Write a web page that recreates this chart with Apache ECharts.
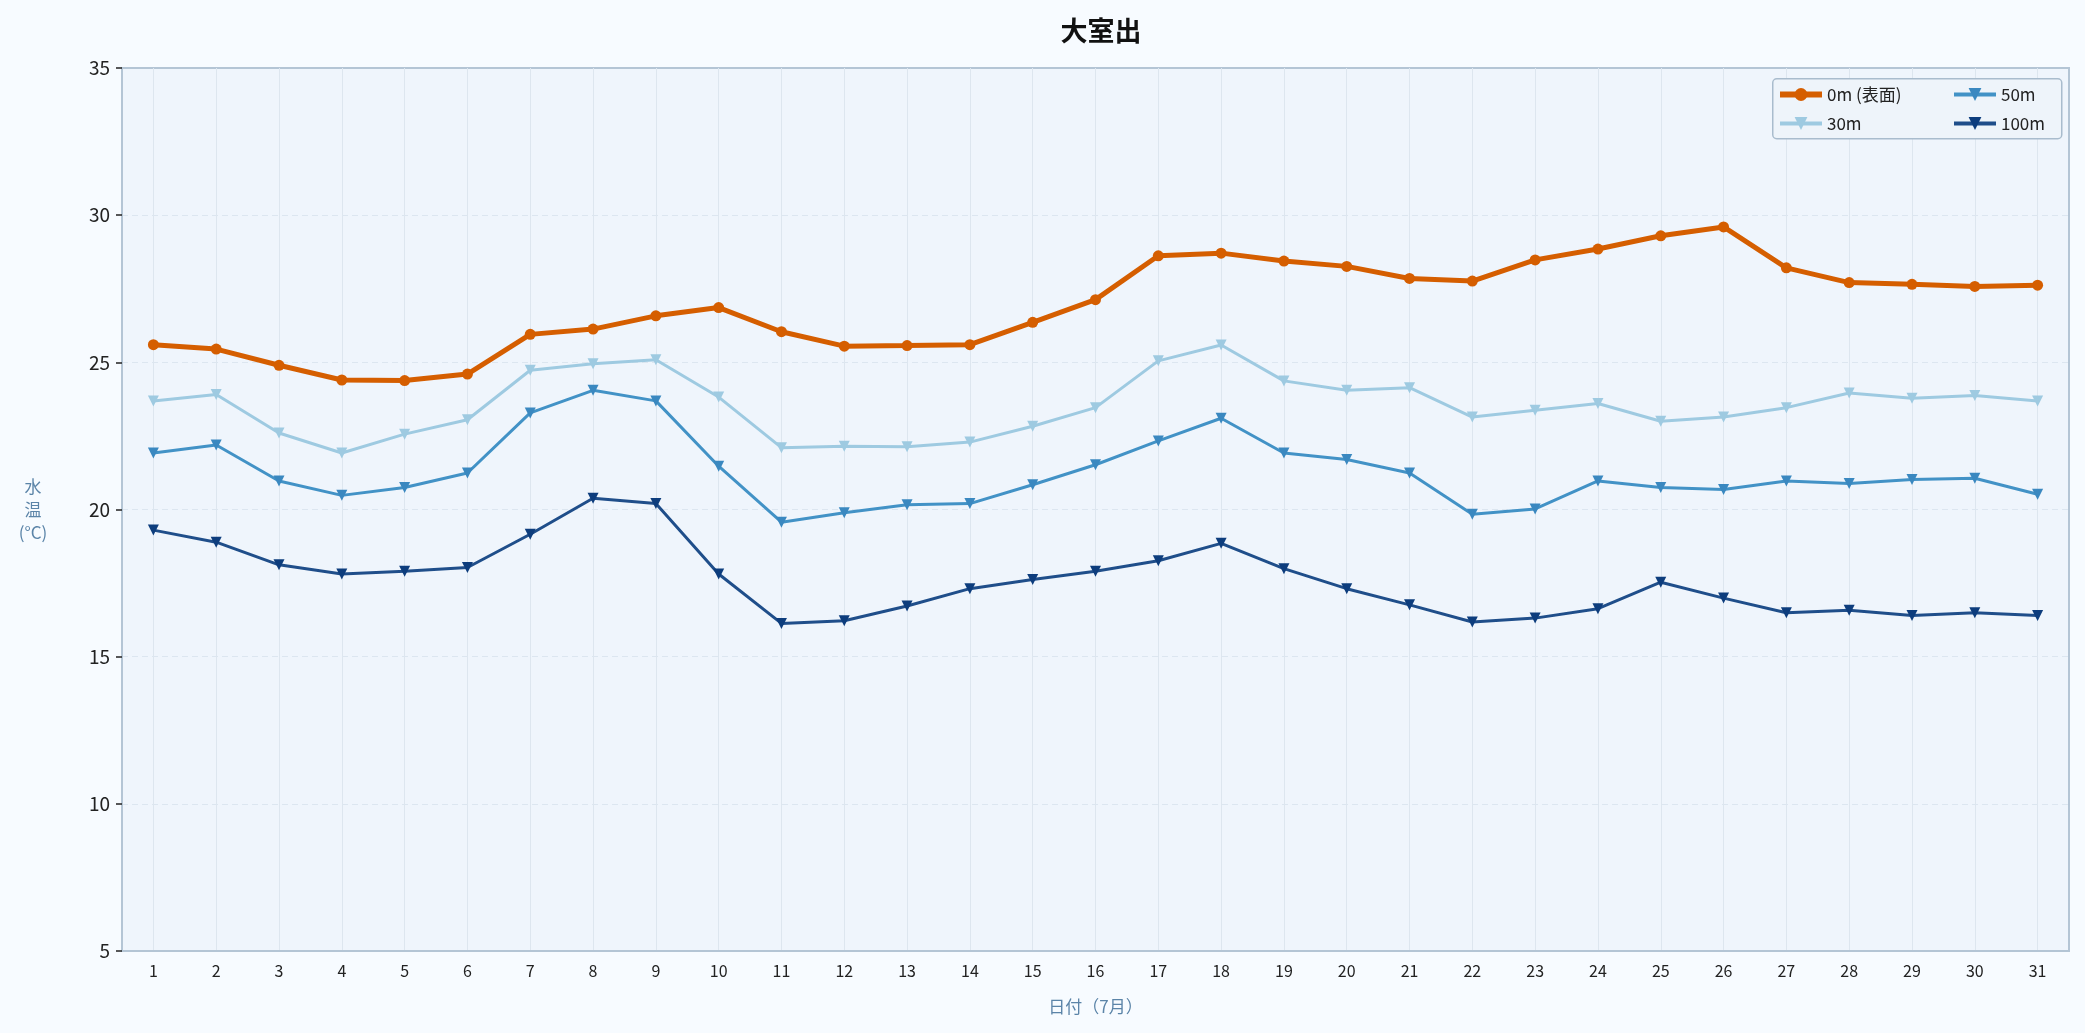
<!DOCTYPE html>
<html>
<head>
<meta charset="utf-8">
<title>大室出</title>
<script src="https://cdn.jsdelivr.net/npm/echarts@6/dist/echarts.min.js"></script>
<style>
  html, body { margin: 0; padding: 0; background: #f7fbff; }
  #chart { width: 2085px; height: 1033px; }
</style>
</head>
<body>
<div id="chart"></div>
<script>
// 日付（7月）
const days = ['1','2','3','4','5','6','7','8','9','10','11','12','13','14','15','16',
  '17','18','19','20','21','22','23','24','25','26','27','28','29','30','31'];

// 水温 (°C) by depth
const temp0m = [25.6, 25.45, 24.9, 24.4, 24.38, 24.6, 25.95, 26.13, 26.58, 26.86, 26.04,
  25.55, 25.57, 25.6, 26.36, 27.13, 28.62, 28.71, 28.44, 28.26, 27.85, 27.76, 28.48,
  28.85, 29.3, 29.6, 28.21, 27.71, 27.65, 27.58, 27.62];
const temp30m = [23.69, 23.91, 22.6, 21.92, 22.56, 23.05, 24.73, 24.95, 25.09, 23.82,
  22.1, 22.15, 22.13, 22.29, 22.83, 23.46, 25.05, 25.59, 24.37, 24.05, 24.14, 23.14,
  23.37, 23.6, 23.0, 23.14, 23.46, 23.96, 23.78, 23.87, 23.69];
const temp50m = [21.92, 22.19, 20.97, 20.48, 20.75, 21.24, 23.28, 24.05, 23.69, 21.47,
  19.57, 19.89, 20.16, 20.2, 20.84, 21.52, 22.33, 23.1, 21.92, 21.7, 21.24, 19.84,
  20.02, 20.97, 20.75, 20.68, 20.97, 20.88, 21.02, 21.06, 20.52];
const temp100m = [19.3, 18.89, 18.12, 17.81, 17.9, 18.03, 19.16, 20.38, 20.2, 17.81,
  16.13, 16.22, 16.72, 17.31, 17.62, 17.9, 18.26, 18.85, 17.99, 17.31, 16.76, 16.18,
  16.31, 16.63, 17.53, 16.99, 16.49, 16.58, 16.4, 16.49, 16.4];

const seriesNames = ['0m (表面)', '30m', '50m', '100m'];
const yMin = 5, yMax = 35, yStep = 5;

const FONT = '"Noto Sans CJK JP", "Noto Sans", sans-serif';
const axisColor = '#b4c5d5';
const nameColor = '#5b84a8';

function depthSeries(name, data, color, markerColor, width, symbol, size) {
  return {
    name: name,
    type: 'line',
    data: data,
    symbol: symbol,
    symbolSize: size,
    symbolRotate: symbol === 'triangle' ? 180 : 0,
    lineStyle: { color: color, width: width },
    itemStyle: { color: markerColor },
    emphasis: { disabled: true },
    z: name === seriesNames[0] ? 5 : 3
  };
}

const legendText = { fontSize: 17, lineHeight: 16, color: '#222', fontFamily: FONT };

function legendItem(name, width) {
  return { name: name, lineStyle: { width: width } };
}

const option = {
  backgroundColor: '#f7fbff',
  textStyle: { fontFamily: FONT },
  animation: false,
  title: {
    text: '大室出',
    left: 1096,
    textAlign: 'center',
    top: 12,
    textStyle: { fontSize: 27, fontWeight: 'bold', color: '#111', fontFamily: FONT }
  },
  grid: {
    left: 122, right: 16, top: 68, bottom: 82,
    show: true,
    backgroundColor: '#eff5fc',
    borderColor: axisColor,
    borderWidth: 2
  },
  graphic: [{
    type: 'rect',
    left: 1772, top: 78,
    shape: { width: 289, height: 60, r: 4 },
    style: { fill: '#eef4fa', stroke: '#a9bccd', lineWidth: 1.5 },
    z: 10
  }],
  legend: [{
    data: [legendItem(seriesNames[0], 6), legendItem(seriesNames[1], 4)],
    orient: 'vertical',
    left: 1777, top: 86,
    padding: 0,
    itemWidth: 42, itemHeight: 16, itemGap: 12,
    textStyle: legendText,
    z: 20
  }, {
    data: [legendItem(seriesNames[2], 4), legendItem(seriesNames[3], 4)],
    orient: 'vertical',
    left: 1952, top: 86,
    padding: 0,
    itemWidth: 42, itemHeight: 16, itemGap: 12,
    textStyle: legendText,
    z: 20
  }],
  xAxis: {
    type: 'category',
    data: days,
    boundaryGap: true,
    name: '日付（7月）',
    nameLocation: 'middle',
    nameGap: 47,
    nameTextStyle: { fontSize: 17, color: nameColor, fontFamily: FONT },
    axisLine: { lineStyle: { color: axisColor, width: 2 } },
    axisTick: { alignWithLabel: true, length: 6, lineStyle: { color: '#222', width: 1.5 } },
    axisLabel: { fontSize: 16, color: '#222', margin: 12 },
    splitLine: { show: true, alignWithLabel: true, lineStyle: { color: '#dde6ef', width: 1 } }
  },
  yAxis: {
    type: 'value',
    min: yMin, max: yMax, interval: yStep,
    name: '水\n温\n(°C)',
    nameLocation: 'middle',
    nameRotate: 0,
    nameGap: 89,
    nameTextStyle: { fontSize: 17, lineHeight: 23, color: nameColor, align: 'center', verticalAlign: 'middle', fontFamily: FONT },
    axisLine: { show: true, lineStyle: { color: axisColor, width: 2 } },
    axisTick: { show: true, length: 6, lineStyle: { color: '#222', width: 1.5 } },
    axisLabel: { fontSize: 19, color: '#222', margin: 12 },
    splitLine: { show: true, showMinLine: false, showMaxLine: false, lineStyle: { color: '#dce6f0', type: [6, 4], width: 1.2 } }
  },
  series: [
    depthSeries(seriesNames[0], temp0m, '#d55e00', '#d55e00', 5, 'circle', 11),
    depthSeries(seriesNames[1], temp30m, '#9ecae1', '#9ecae1', 3, 'triangle', 11),
    depthSeries(seriesNames[2], temp50m, '#4292c6', '#3a88c0', 3, 'triangle', 11),
    depthSeries(seriesNames[3], temp100m, '#1f4e8a', '#0d3d7d', 3, 'triangle', 11)
  ]
};

const chart = echarts.init(document.getElementById('chart'));
chart.setOption(option);
</script>
</body>
</html>
